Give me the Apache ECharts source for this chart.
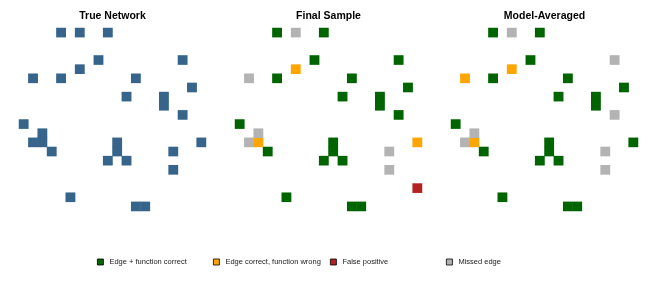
<!DOCTYPE html>
<html>
<head>
<meta charset="utf-8">
<script src="https://cdn.jsdelivr.net/npm/echarts@6/dist/echarts.min.js"></script>
<style>
  html, body { margin: 0; padding: 0; background: #fff; }
  #chart { width: 648px; height: 288px; }
</style>
</head>
<body>
<div id="chart"></div>
<script>
// 20 x 20 adjacency grid, cells given as [column, row]
const cells = Array.from({length: 20}, (_, i) => String(i));
const panelTitles = ['True Network', 'Final Sample', 'Model-Averaged'];
const legendNames = ['Edge + function correct', 'Edge correct, function wrong', 'False positive', 'Missed edge'];

const trueEdges = [[4,0],[6,0],[9,0],[8,3],[17,3],[6,4],[1,5],[4,5],[12,5],[18,6],[11,7],[15,7],[15,8],[17,9],
  [0,10],[2,11],[1,12],[2,12],[10,12],[19,12],[3,13],[10,13],[16,13],[9,14],[11,14],[16,15],[5,18],[12,19],[13,19]];

const finalCorrect = [[4,0],[9,0],[8,3],[17,3],[4,5],[12,5],[18,6],[11,7],[15,7],[15,8],[17,9],[0,10],
  [10,12],[10,13],[3,13],[9,14],[11,14],[5,18],[12,19],[13,19]];
const finalWrongFn = [[6,4],[2,12],[19,12]];
const finalFalsePos = [[19,17]];
const finalMissed = [[6,0],[1,5],[2,11],[1,12],[16,13],[16,15]];

const avgCorrect = [[4,0],[9,0],[8,3],[4,5],[12,5],[18,6],[11,7],[15,7],[15,8],[0,10],[10,12],[19,12],
  [10,13],[3,13],[9,14],[11,14],[5,18],[12,19],[13,19]];
const avgWrongFn = [[6,4],[1,5],[2,12]];
const avgFalsePos = [];
const avgMissed = [[6,0],[17,3],[17,9],[2,11],[1,12],[16,13],[16,15]];

const colors = {
  truth: '#36648B',
  correct: '#006400',
  wrongFn: '#FFA500',
  falsePos: '#B22222',
  missed: '#B3B3B3'
};

const chart = echarts.init(document.getElementById('chart'));

const panelLeft = [19, 235, 451];
const panelW = 187;

function cellSeries(name, idx, data, color) {
  return {
    name: name,
    type: 'heatmap',
    xAxisIndex: idx,
    yAxisIndex: idx,
    data: data.map(d => [d[0], d[1], 1]),
    itemStyle: {color: color},
    emphasis: {disabled: true},
    silent: true
  };
}

const series = [
  cellSeries('True edge', 0, trueEdges, colors.truth),
  cellSeries(legendNames[0], 1, finalCorrect, colors.correct),
  cellSeries(legendNames[1], 1, finalWrongFn, colors.wrongFn),
  cellSeries(legendNames[2], 1, finalFalsePos, colors.falsePos),
  cellSeries(legendNames[3], 1, finalMissed, colors.missed),
  cellSeries(legendNames[0], 2, avgCorrect, colors.correct),
  cellSeries(legendNames[1], 2, avgWrongFn, colors.wrongFn),
  cellSeries(legendNames[2], 2, avgFalsePos, colors.falsePos),
  cellSeries(legendNames[3], 2, avgMissed, colors.missed)
];

const legendLeft = [97, 213, 330, 446];
const legendColors = [colors.correct, colors.wrongFn, colors.falsePos, colors.missed];

chart.setOption({
  animation: false,
  textStyle: {fontFamily: 'Liberation Sans, Arial, sans-serif'},
  title: panelTitles.map((t, i) => ({
    text: t,
    left: panelLeft[i] + panelW / 2,
    top: 11,
    textAlign: 'center',
    padding: 0,
    textStyle: {fontSize: 10.5, fontWeight: 'bold', color: '#000', fontFamily: 'Liberation Sans, Arial, sans-serif'}
  })),
  grid: panelLeft.map(l => ({left: l, top: 28, width: panelW, height: 183})),
  xAxis: [0, 1, 2].map(i => ({type: 'category', data: cells, gridIndex: i, show: false})),
  yAxis: [0, 1, 2].map(i => ({type: 'category', data: cells, gridIndex: i, inverse: true, show: false})),
  legend: legendNames.map((n, i) => ({
    data: [{name: n, itemStyle: {color: legendColors[i], borderColor: '#000', borderWidth: 0.8}}],
    left: legendLeft[i] - 5,
    top: 253,
    icon: 'rect',
    itemWidth: 6,
    itemHeight: 6,
    selectedMode: false,
    textStyle: {fontSize: 7.5, color: '#222', padding: [0, 0, 0, 1]}
  })),
  series: series
});
</script>
</body>
</html>
